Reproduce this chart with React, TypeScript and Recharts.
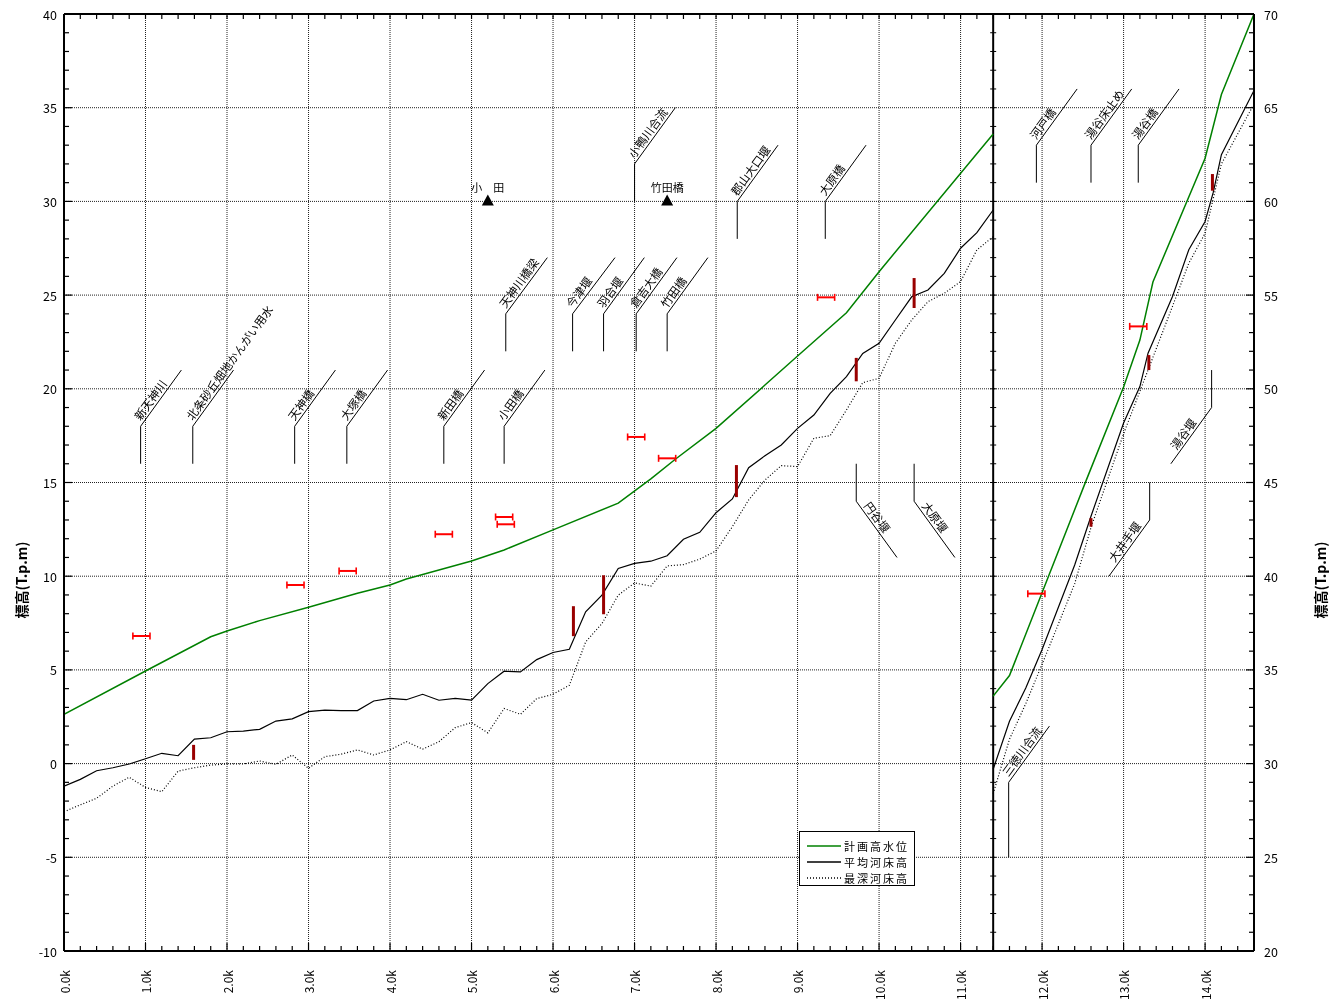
import React from 'react';
import { ComposedChart, Line, Scatter, XAxis, YAxis, ReferenceLine, Legend, Label } from 'recharts';

const FONT = "'Noto Sans CJK JP', sans-serif";

// 距離標 (km) と河床高 (下流区間, 左軸)
const bedKm = [
  0, 0.2, 0.4, 0.6, 0.8, 1.0, 1.2, 1.4, 1.6, 1.8, 2.0, 2.2, 2.4, 2.6, 2.8, 3.0, 3.2, 3.4, 3.6, 3.8,
  4.0, 4.2, 4.4, 4.6, 4.8, 5.0, 5.2, 5.4, 5.6, 5.8, 6.0, 6.2, 6.4, 6.6, 6.8, 7.0, 7.2, 7.4, 7.6, 7.8,
  8.0, 8.2, 8.4, 8.6, 8.8, 9.0, 9.2, 9.4, 9.6, 9.8, 10.0, 10.2, 10.4, 10.6, 10.8, 11.0, 11.2, 11.4,
];
const meanBed = [
  -1.2, -0.84, -0.38, -0.22, -0.02, 0.26, 0.55, 0.42, 1.31, 1.38, 1.7, 1.73, 1.83, 2.27, 2.39, 2.77, 2.85, 2.83, 2.83, 3.34,
  3.48, 3.41, 3.7, 3.38, 3.48, 3.39, 4.27, 4.93, 4.89, 5.55, 5.93, 6.1, 8.1, 8.99, 10.41, 10.68, 10.8, 11.09, 11.97, 12.34,
  13.39, 14.12, 15.79, 16.43, 17.0, 17.89, 18.6, 19.76, 20.65, 21.89, 22.43, 23.67, 24.91, 25.27, 26.16, 27.5, 28.33, 29.54,
];
const deepBed = [
  -2.57, -2.2, -1.85, -1.2, -0.73, -1.27, -1.5, -0.4, -0.22, -0.08, -0.02, -0.02, 0.14, -0.04, 0.46, -0.25, 0.37, 0.5, 0.73, 0.46,
  0.73, 1.17, 0.77, 1.17, 1.92, 2.19, 1.64, 2.94, 2.63, 3.47, 3.7, 4.18, 6.49, 7.47, 8.99, 9.64, 9.47, 10.55, 10.62, 10.91,
  11.35, 12.64, 14.07, 15.13, 15.9, 15.85, 17.36, 17.5, 18.87, 20.33, 20.56, 22.43, 23.67, 24.65, 25.1, 25.72, 27.41, 28.12,
];
const planKm = [0, 1.0, 1.8, 2.0, 2.4, 3.0, 3.6, 4.0, 4.2, 5.0, 5.2, 5.4, 6.0, 6.8, 7.2, 7.5, 8.0, 8.6, 9.0, 9.6, 10.0, 11.4];
const planLevel = [2.63, 4.94, 6.77, 7.08, 7.63, 8.34, 9.09, 9.53, 9.85, 10.81, 11.1, 11.4, 12.47, 13.9, 15.19, 16.24, 17.89, 20.2, 21.75, 24.06, 26.25, 33.6];

// 上流区間 (右軸)
const planKmUp = [11.4, 11.6, 12.54, 13.0, 13.2, 13.36, 14.0, 14.2, 14.6];
const planLevelUp = [33.6, 34.7, 45.1, 50.1, 52.6, 55.7, 62.3, 65.7, 70.0];
const meanKmUp = [11.4, 11.6, 11.8, 12.0, 12.4, 12.6, 13.0, 13.2, 13.3, 13.6, 13.8, 14.0, 14.1, 14.2, 14.6];
const meanBedUp = [29.7, 32.26, 34.04, 36.09, 40.6, 43.2, 48.17, 50.12, 51.9, 54.93, 57.42, 58.93, 60.48, 62.49, 65.92];
const deepKmUp = [11.4, 11.6, 11.8, 12.0, 12.4, 12.6, 13.0, 13.3, 13.6, 13.8, 14.0, 14.2, 14.6];
const deepBedUp = [28.4, 31.3, 33.2, 35.3, 39.6, 42.6, 47.6, 51.0, 54.4, 56.7, 58.3, 62.0, 65.2];

// 赤の桁下高マーカー (中心 km, 標高)
const girderMarks = [
  { km: 0.95, v: 6.81, axis: 'left' }, { km: 2.84, v: 9.53, axis: 'left' }, { km: 3.48, v: 10.28, axis: 'left' },
  { km: 4.66, v: 12.24, axis: 'left' }, { km: 5.4, v: 13.16, axis: 'left' }, { km: 5.42, v: 12.77, axis: 'left' },
  { km: 7.02, v: 17.43, axis: 'left' }, { km: 7.4, v: 16.29, axis: 'left' }, { km: 9.35, v: 24.88, axis: 'left' },
  { km: 11.93, v: 39.07, axis: 'right' }, { km: 13.18, v: 53.33, axis: 'right' },
];
const girderHalf = 0.105;

// 堰・床止め (暗赤の縦棒)
const weirBars = [
  { km: 1.59, lo: 0.2, hi: 1.0, axis: 'left' }, { km: 6.25, lo: 6.8, hi: 8.4, axis: 'left' },
  { km: 6.62, lo: 7.97, hi: 10.05, axis: 'left' }, { km: 8.25, lo: 14.22, hi: 15.93, axis: 'left' },
  { km: 9.72, lo: 20.4, hi: 21.65, axis: 'left' }, { km: 10.43, lo: 24.31, hi: 25.91, axis: 'left' },
  { km: 12.6, lo: 42.64, hi: 43.1, axis: 'right' }, { km: 13.31, lo: 51.0, hi: 51.8, axis: 'right' },
  { km: 14.09, lo: 60.57, hi: 61.46, axis: 'right' },
];

// 水位観測所
const gauges = [
  { km: 5.2, v: 30, name: '小　田' },
  { km: 7.4, v: 30, name: '竹田橋' },
];

// 引出し線付き注記
const leaders = [
  { name: '新天神川', axis: 'left', x: 0.94, base: 16, bend: 18, tipX: 1.44, tip: 21 },
  { name: '北条砂丘畑地かんがい用水', axis: 'left', x: 1.58, base: 16, bend: 18, tipX: 2.08, tip: 21 },
  { name: '天神橋', axis: 'left', x: 2.83, base: 16, bend: 18, tipX: 3.33, tip: 21 },
  { name: '大塚橋', axis: 'left', x: 3.47, base: 16, bend: 18, tipX: 3.97, tip: 21 },
  { name: '新田橋', axis: 'left', x: 4.66, base: 16, bend: 18, tipX: 5.16, tip: 21 },
  { name: '小田橋', axis: 'left', x: 5.4, base: 16, bend: 18, tipX: 5.9, tip: 21 },
  { name: '天神川橋梁', axis: 'left', x: 5.42, base: 22, bend: 24, tipX: 5.93, tip: 27 },
  { name: '今津堰', axis: 'left', x: 6.24, base: 22, bend: 24, tipX: 6.76, tip: 27 },
  { name: '羽合堰', axis: 'left', x: 6.62, base: 22, bend: 24, tipX: 7.12, tip: 27 },
  { name: '倉吉大橋', axis: 'left', x: 7.02, base: 22, bend: 24, tipX: 7.52, tip: 27 },
  { name: '竹田橋', axis: 'left', x: 7.4, base: 22, bend: 24, tipX: 7.9, tip: 27 },
  { name: '小鴨川合流', axis: 'left', x: 7.0, base: 30, bend: 32, tipX: 7.5, tip: 35 },
  { name: '郡山大口堰', axis: 'left', x: 8.26, base: 28, bend: 30, tipX: 8.76, tip: 33 },
  { name: '大原橋', axis: 'left', x: 9.34, base: 28, bend: 30, tipX: 9.84, tip: 33 },
  { name: '円谷堰', axis: 'left', x: 9.72, base: 16, bend: 14, tipX: 10.22, tip: 11 },
  { name: '大原堰', axis: 'left', x: 10.43, base: 16, bend: 14, tipX: 10.93, tip: 11 },
  { name: '河戸橋', axis: 'right', x: 11.93, base: 61, bend: 63, tipX: 12.43, tip: 66 },
  { name: '湯谷床止め', axis: 'right', x: 12.6, base: 61, bend: 63, tipX: 13.1, tip: 66 },
  { name: '湯谷橋', axis: 'right', x: 13.18, base: 61, bend: 63, tipX: 13.68, tip: 66 },
  { name: '湯谷堰', axis: 'right', x: 14.08, base: 51, bend: 49, tipX: 13.58, tip: 46 },
  { name: '大井手堰', axis: 'right', x: 13.32, base: 45, bend: 43, tipX: 12.82, tip: 40 },
  { name: '三徳川合流', axis: 'right', x: 11.59, base: 25, bend: 29, tipX: 12.09, tip: 32 },
];

const xTickLabels = ['0.0k', '1.0k', '2.0k', '3.0k', '4.0k', '5.0k', '6.0k', '7.0k', '8.0k', '9.0k', '10.0k', '11.0k', '12.0k', '13.0k', '14.0k'];
const xGrid = [1, 2, 3, 4, 5, 6, 7, 8, 9, 10, 11, 12, 13, 14];
const yGrid = [-5, 0, 5, 10, 15, 20, 25, 30, 35];
const splitKm = 11.4;

const legendItems = [
  { name: '計画高水位', color: '#008000', dash: undefined },
  { name: '平均河床高', color: '#000000', dash: undefined },
  { name: '最深河床高', color: '#000000', dash: '1 2' },
];

const xMinor = Array.from({ length: 74 }, (_, i) => Math.round(i * 2) / 10);
const yLeftTicks = Array.from({ length: 51 }, (_, i) => i - 10);
const yRightTicks = Array.from({ length: 51 }, (_, i) => i + 20);

const toPoints = (km: number[], v: number[]) => km.map((k, i) => ({ km: k, v: v[i] }));

const BottomTick = (props: any) => {
  const { x, y, payload } = props;
  const v = payload.value as number;
  const major = Math.abs(v - Math.round(v)) < 1e-6;
  return (
    <g>
      <line x1={x} y1={y} x2={x} y2={y - (major ? 8 : 5)} stroke="#000" strokeWidth={1.2} />
      {major && (
        <text x={x} y={y + 19} transform={`rotate(-90 ${x} ${y + 19})`} textAnchor="end" dominantBaseline="central"
          fontSize={12} fontFamily={FONT} fill="#000">
          {xTickLabels[Math.round(v)]}
        </text>
      )}
    </g>
  );
};

const TopTick = (props: any) => {
  const { x, y } = props;
  return <line x1={x} y1={y} x2={x} y2={y + 5} stroke="#000" strokeWidth={1.2} />;
};

const LeftTick = (props: any) => {
  const { x, y, payload } = props;
  const v = payload.value as number;
  const major = v % 5 === 0;
  return (
    <g>
      <line x1={x} y1={y} x2={x + (major ? 8 : 5)} y2={y} stroke="#000" strokeWidth={1.2} />
      {major && (
        <text x={x - 7} y={y} textAnchor="end" dominantBaseline="central" fontSize={12.5} fontFamily={FONT} fill="#000">{v}</text>
      )}
    </g>
  );
};

const RightTick = (props: any) => {
  const { x, y, payload } = props;
  const v = payload.value as number;
  const major = v % 5 === 0;
  return (
    <g>
      <line x1={x} y1={y} x2={x - (major ? 8 : 5)} y2={y} stroke="#000" strokeWidth={1.2} />
      {major && (
        <text x={x + 10} y={y} textAnchor="start" dominantBaseline="central" fontSize={12.5} fontFamily={FONT} fill="#000">{v}</text>
      )}
    </g>
  );
};

const AxisTitle = (dx: number) => (props: any) => {
  const vb = props.viewBox || {};
  const x = vb.x + dx;
  const y = 580;
  return (
    <text x={x} y={y} transform={`rotate(-90 ${x} ${y})`} textAnchor="middle" dominantBaseline="central"
      fontSize={14} fontWeight="bold" fontFamily={FONT} fill="#000">
      標高(T.p.m)
    </text>
  );
};

const GaugeShape = (props: any) => {
  const { cx, cy, payload } = props;
  return (
    <g>
      <polygon points={`${cx - 6},${cy + 4} ${cx + 6},${cy + 4} ${cx},${cy - 7}`} fill="#000" />
      <text x={cx} y={cy - 9} textAnchor="middle" fontSize={11} fontFamily={FONT} fill="#000" stroke="none">{payload.name}</text>
    </g>
  );
};

const SepTick = (props: any) => {
  const { cx, cy } = props;
  return <line x1={cx - 3} y1={cy} x2={cx + 3} y2={cy} stroke="#000" strokeWidth={1} />;
};

const LegendBox = () => (
  <div style={{
    width: 116, height: 55, boxSizing: 'border-box', border: '1px solid #000', background: '#fff',
    padding: '6px 0 0 7px', fontFamily: FONT, fontSize: 11, letterSpacing: 2, color: '#000',
  }}>
    {legendItems.map((it) => (
      <div key={it.name} style={{ display: 'flex', alignItems: 'center', height: 16 }}>
        <svg width={34} height={16} style={{ flex: 'none' }}>
          <line x1={0} y1={8} x2={34} y2={8} stroke={it.color} strokeWidth={1.3} strokeDasharray={it.dash} />
        </svg>
        <span style={{ display: 'block', marginLeft: 3, whiteSpace: 'nowrap', lineHeight: '16px' }}>{it.name}</span>
      </div>
    ))}
  </div>
);

export default function App() {
  return (
    <div style={{ position: 'fixed', left: 0, top: 0, width: 1332, height: 1001 }}>
      <ComposedChart width={1332} height={1001} margin={{ top: 13, right: 0, bottom: 0, left: 8 }}>
        <XAxis xAxisId="x" dataKey="km" type="number" domain={[0, 14.6]} ticks={xMinor} interval={0}
          height={50} tickSize={0} tickMargin={0} tickLine={false} allowDataOverflow
          axisLine={{ stroke: '#000', strokeWidth: 2 }} tick={<BottomTick />} />
        <XAxis xAxisId="top" orientation="top" dataKey="km" type="number" domain={[0, 14.6]} ticks={xMinor} interval={0}
          height={1} tickSize={0} tickMargin={0} tickLine={false} allowDataOverflow
          axisLine={{ stroke: '#000', strokeWidth: 2 }} tick={<TopTick />} />
        <YAxis yAxisId="left" dataKey="v" type="number" domain={[-10, 40]} ticks={yLeftTicks} interval={0}
          width={56} tickSize={0} tickMargin={0} tickLine={false} allowDataOverflow
          axisLine={{ stroke: '#000', strokeWidth: 2 }} tick={<LeftTick />}>
          <Label content={AxisTitle(13)} />
        </YAxis>
        <YAxis yAxisId="right" orientation="right" dataKey="v" type="number" domain={[20, 70]} ticks={yRightTicks} interval={0}
          width={78} tickSize={0} tickMargin={0} tickLine={false} allowDataOverflow
          axisLine={{ stroke: '#000', strokeWidth: 2 }} tick={<RightTick />}>
          <Label content={AxisTitle(66)} />
        </YAxis>

        {yGrid.map((v) => (
          <ReferenceLine key={'gy' + v} xAxisId="x" yAxisId="left" y={v} stroke="#222" strokeWidth={1} strokeDasharray="1 1" />
        ))}
        {xGrid.map((k) => (
          <ReferenceLine key={'gx' + k} xAxisId="x" yAxisId="left" x={k} stroke="#222" strokeWidth={1} strokeDasharray="1 1" />
        ))}
        <ReferenceLine xAxisId="x" yAxisId="left" x={splitKm} stroke="#000" strokeWidth={2} />
        <Scatter xAxisId="x" yAxisId="left" data={yLeftTicks.map((v) => ({ km: splitKm, v }))} shape={<SepTick />} isAnimationActive={false} />

        {leaders.map((a, i) => {
          const pts = [{ km: a.x, v: a.base }, { km: a.x, v: a.bend }, { km: a.tipX, v: a.tip }];
          const rising = a.tip > a.bend;
          const rightward = a.tipX > a.x;
          const angle = rising === rightward ? -54 : 54;
          const anchor = rightward ? 1 : 2;
          const shift = anchor === 2 ? 14 : rising ? 4 : 8;
          return (
            <Line key={'ld' + i} xAxisId="x" yAxisId={a.axis} data={pts} dataKey="v" type="linear" stroke="#000" strokeWidth={1}
              activeDot={false} isAnimationActive={false}
              dot={(p: any) => p.index === anchor ? (
                <text key={'t' + i} x={p.cx + shift} y={p.cy - 3} transform={`rotate(${angle} ${p.cx} ${p.cy})`}
                  fontSize={11.5} fontFamily={FONT} fill="#000">{a.name}</text>
              ) : <g key={'n' + i + '-' + p.index} />} />
          );
        })}

        <Line xAxisId="x" yAxisId="left" data={toPoints(bedKm, deepBed)} dataKey="v" type="linear" stroke="#000" strokeWidth={1.2} strokeDasharray="1 2" dot={false} activeDot={false} isAnimationActive={false} />
        <Line xAxisId="x" yAxisId="left" data={toPoints(bedKm, meanBed)} dataKey="v" type="linear" stroke="#000" strokeWidth={1.2} dot={false} activeDot={false} isAnimationActive={false} />
        <Line xAxisId="x" yAxisId="left" data={toPoints(planKm, planLevel)} dataKey="v" type="linear" stroke="#008000" strokeWidth={1.5} dot={false} activeDot={false} isAnimationActive={false} />
        <Line xAxisId="x" yAxisId="right" data={toPoints(deepKmUp, deepBedUp)} dataKey="v" type="linear" stroke="#000" strokeWidth={1.2} strokeDasharray="1 2" dot={false} activeDot={false} isAnimationActive={false} />
        <Line xAxisId="x" yAxisId="right" data={toPoints(meanKmUp, meanBedUp)} dataKey="v" type="linear" stroke="#000" strokeWidth={1.2} dot={false} activeDot={false} isAnimationActive={false} />
        <Line xAxisId="x" yAxisId="right" data={toPoints(planKmUp, planLevelUp)} dataKey="v" type="linear" stroke="#008000" strokeWidth={1.5} dot={false} activeDot={false} isAnimationActive={false} />

        {weirBars.map((b, i) => (
          <Line key={'wb' + i} xAxisId="x" yAxisId={b.axis} data={[{ km: b.km, v: b.lo }, { km: b.km, v: b.hi }]} dataKey="v"
            stroke="#990000" strokeWidth={3} dot={false} activeDot={false} isAnimationActive={false} />
        ))}
        {girderMarks.map((m, i) => (
          <Line key={'gm' + i} xAxisId="x" yAxisId={m.axis} data={[{ km: m.km - girderHalf, v: m.v }, { km: m.km + girderHalf, v: m.v }]} dataKey="v"
            stroke="#ff0000" strokeWidth={2} activeDot={false} isAnimationActive={false}
            dot={(p: any) => <line key={'c' + i + '-' + p.index} x1={p.cx} y1={p.cy - 3.5} x2={p.cx} y2={p.cy + 3.5} stroke="#ff0000" strokeWidth={1.6} />} />
        ))}
        <Scatter xAxisId="x" yAxisId="left" data={gauges} shape={<GaugeShape />} isAnimationActive={false} />

        <Legend layout="horizontal" verticalAlign="middle" align="center" content={<LegendBox />}
          wrapperStyle={{ left: 799, top: 831, width: 116, height: 55 }} />
      </ComposedChart>
    </div>
  );
}
